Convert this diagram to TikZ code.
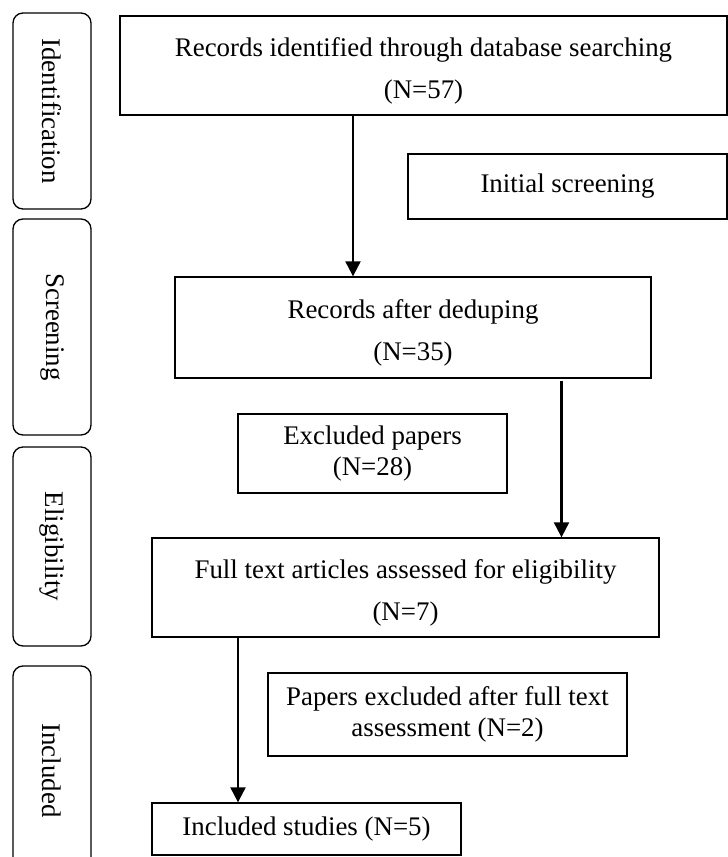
\documentclass[tikz,border=0pt]{standalone}
\usepackage{fontspec}
\setmainfont{Liberation Serif}
\usetikzlibrary{arrows.meta}

\begin{document}
\begin{tikzpicture}[
  box/.style 2 args={draw,line width=0.75pt,minimum width=#1,minimum height=#2,
    inner sep=0pt,align=center,font=\fontsize{15.3}{17.6}\selectfont},
  phase/.style={draw,line width=0.75pt,rounded corners=0.2cm,rotate=-90,
    minimum width=#1,minimum height=1.56cm,inner sep=0pt,
    font=\fontsize{15.3}{17.6}\selectfont},
  arr/.style={-{Triangle[length=8.5pt,width=8.5pt]},line width=1.2pt}]
  \useasboundingbox (0,0) rectangle (14.56,-17.14);
  % Phase labels on the left
  \node[phase=3.92cm] (lid) at (1.04,-2.22) {Identification};
  \node[phase=4.32cm] (lscr) at (1.04,-6.54) {Screening};
  \node[phase=3.98cm] (lelig) at (1.04,-10.93) {Eligibility};
  \node[phase=4.18cm] (lincl) at (1.04,-15.41) {Included};
  % Flow boxes
  \node[box={12.14cm}{1.98cm}] (recid) at (8.47,-1.31)
    {\rule{0pt}{17pt}Records identified through database searching\\[6pt](N=57)};
  \node[box={6.38cm}{1.30cm}] (screen) at (11.35,-3.73) {Initial screening};
  \node[box={9.52cm}{2.02cm}] (dedup) at (8.26,-6.55)
    {\rule{0pt}{17pt}Records after deduping\\[6pt](N=35)};
  \node[box={5.38cm}{1.58cm}] (excl) at (7.45,-9.07) {Excluded papers\\(N=28)};
  \node[box={10.14cm}{1.98cm}] (fulltext) at (8.11,-11.75)
    {\rule{0pt}{17pt}Full text articles assessed for eligibility\\[6pt](N=7)};
  \node[box={7.18cm}{1.66cm}] (exclft) at (8.95,-14.29)
    {Papers excluded after full text\\assessment (N=2)};
  \node[box={6.18cm}{1.04cm}] (incl) at (6.13,-16.58) {Included studies (N=5)};
  % Arrows
  \coordinate (a1) at (7.06,0);
  \coordinate (a2) at (11.23,0);
  \coordinate (a3) at (4.76,0);
  \draw[arr] (recid.south -| a1) -- (dedup.north -| a1);
  \draw[arr,shorten <=1.5pt] (dedup.south -| a2) -- (fulltext.north -| a2);
  \draw[arr] (fulltext.south -| a3) -- (incl.north -| a3);
\end{tikzpicture}
\end{document}
